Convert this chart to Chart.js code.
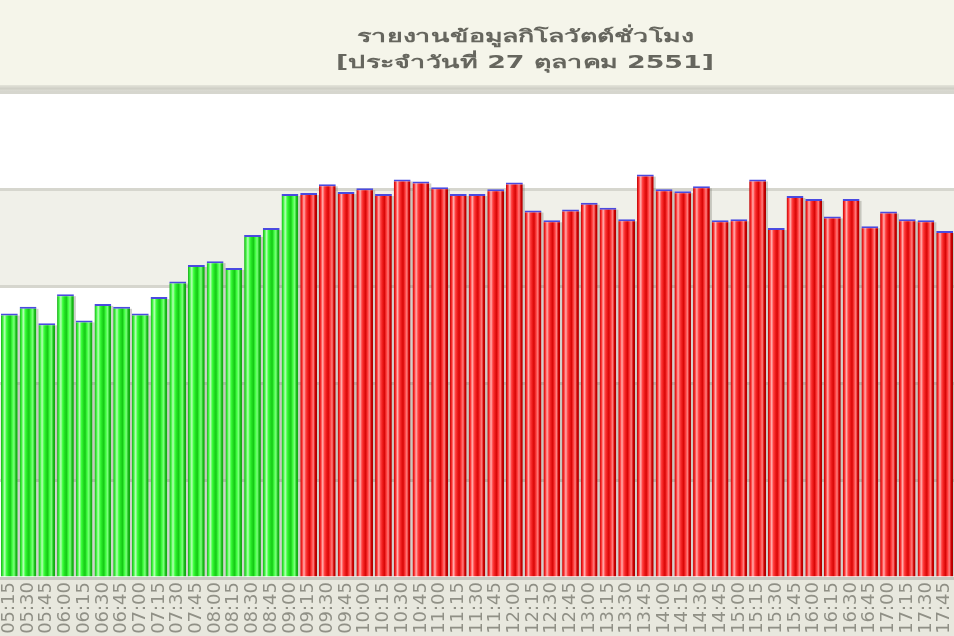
<!DOCTYPE html>
<html>
<head>
<meta charset="utf-8">
<script src="https://cdn.jsdelivr.net/npm/chart.js@4.4.0/dist/chart.umd.min.js"></script>
<style>
html,body{margin:0;padding:0;background:#f5f5ea;}
#wrap{width:954px;height:636px;position:relative;}
</style>
</head>
<body>
<div id="wrap"><canvas id="c" width="954" height="636"></canvas></div>
<script>
const titleLines = ['รายงานข้อมูลกิโลวัตต์ชั่วโมง', '[ประจำวันที่ 27 ตุลาคม 2551]'];
const timeLabels = ['05:15','05:30','05:45','06:00','06:15','06:30','06:45','07:00','07:15','07:30','07:45','08:00','08:15','08:30','08:45','09:00',
  '09:15','09:30','09:45','10:00','10:15','10:30','10:45','11:00','11:15','11:30','11:45','12:00','12:15','12:30','12:45','13:00',
  '13:15','13:30','13:45','14:00','14:15','14:30','14:45','15:00','15:15','15:30','15:45','16:00','16:15','16:30','16:45','17:00',
  '17:15','17:30','17:45'];
const kwhValues = [272,279,262,292,265,282,279,272,289,305,322,326,319,353,360,395,
  396,405,397,401,395,410,408,402,395,395,400,407,378,368,379,386,
  381,369,415,400,398,403,368,369,410,360,393,390,372,390,362,377,
  369,368,357];
const yTicks = [0,100,200,300,400,500];
const onPeakStart = '09:15';

function isOnPeak(i){ return timeLabels[i] >= onPeakStart; }

const greenStops = ['#1fa81f','#3cf53c','#b8ffb8','#3dff3d','#22e022','#16c816','#40ff40','#7dff7d','#18c018','#149a14'];
const redStops   = ['#b80000','#ff3030','#ffb0b0','#ff4040','#ee1c1c','#d80606','#ff3a3a','#ff8080','#d00000','#a00000'];

const bandPlugin = {
  id:'bands',
  beforeDraw(chart){
    const {ctx, chartArea:a, scales:{y}} = chart;
    ctx.save();
    ctx.fillStyle = '#f5f5ea';
    ctx.fillRect(0,0,chart.width,a.top);
    const g = ctx.createLinearGradient(0,a.top-7,0,a.top);
    g.addColorStop(0,'#e4e4da'); g.addColorStop(0.5,'#cfcfc6'); g.addColorStop(1,'#e0e0d8');
    ctx.fillStyle = g;
    ctx.fillRect(0,a.top-7,chart.width,7);
    ctx.fillStyle = '#e8e8de';
    ctx.fillRect(0,a.bottom,chart.width,chart.height-a.bottom);
    for(let k=0;k<yTicks.length-1;k++){
      const y0 = y.getPixelForValue(yTicks[k]);
      const y1 = y.getPixelForValue(yTicks[k+1]);
      ctx.fillStyle = (k%2===1) ? '#f0f0e9' : '#ffffff';
      ctx.fillRect(a.left, y1, a.right-a.left, y0-y1);
    }
    ctx.restore();
  },
  afterDraw(chart){
    const ctx = chart.ctx;
    ctx.save();
    ctx.fillStyle = '#66665e';
    ctx.textAlign = 'center';
    ctx.textBaseline = 'middle';
    ctx.font = 'bold 17px "DejaVu Sans", "Noto Sans", sans-serif';
    ctx.translate(525, 0);
    ctx.scale(1.58, 1);
    ctx.fillText(titleLines[0], 0, 38);
    ctx.fillText(titleLines[1], 0, 64);
    ctx.restore();
  }
};

const barStylePlugin = {
  id:'barStyle',
  beforeDatasetsDraw(chart){
    const meta = chart.getDatasetMeta(0);
    const ctx = chart.ctx;
    ctx.save();
    meta.data.forEach((el,i)=>{
      const w = el.width;
      const left = el.x - w/2;
      ctx.fillStyle = 'rgba(120,120,110,0.35)';
      ctx.fillRect(left + w, el.y + 2, 2, el.base - el.y - 2);
      const stops = isOnPeak(i) ? redStops : greenStops;
      const grad = ctx.createLinearGradient(left,0,left+w,0);
      stops.forEach((c,k)=>grad.addColorStop(k/(stops.length-1), c));
      el.options.backgroundColor = grad;
    });
    ctx.restore();
  }
};

new Chart(document.getElementById('c'), {
  type:'bar',
  data:{
    labels: timeLabels,
    datasets:[{
      data: kwhValues,
      backgroundColor: (c)=> isOnPeak(c.dataIndex) ? '#ff2a2a' : '#2aff2a',
      borderColor: '#4a4ae0',
      borderWidth: {top:2, left:0, right:0, bottom:0},
      borderSkipped: false,
      categoryPercentage: 1.0,
      barPercentage: 0.9
    }]
  },
  options:{
    responsive:false,
    animation:false,
    layout:{padding:{top:92, left:0, right:0, bottom:0}},
    plugins:{legend:{display:false}, title:{display:false}, tooltip:{enabled:false}},
    scales:{
      x:{
        offset:true,
        grid:{display:false, drawTicks:false},
        border:{display:true, color:'#c8c8c0', width:3},
        ticks:{
          autoSkip:false, minRotation:90, maxRotation:90,
          color:'#909086', padding:4,
          font:{family:'"DejaVu Sans", sans-serif', size:18}
        },
        afterFit(axis){ axis.paddingLeft = 0; axis.paddingRight = 0; axis.height = 58; }
      },
      y:{
        min:0, max:500,
        ticks:{display:false, stepSize:100},
        grid:{color:'#d6d6ce', lineWidth:3, drawTicks:false},
        border:{display:false},
        afterFit(axis){ axis.width = 0; }
      }
    }
  },
  plugins:[bandPlugin, barStylePlugin]
});
</script>
</body>
</html>
